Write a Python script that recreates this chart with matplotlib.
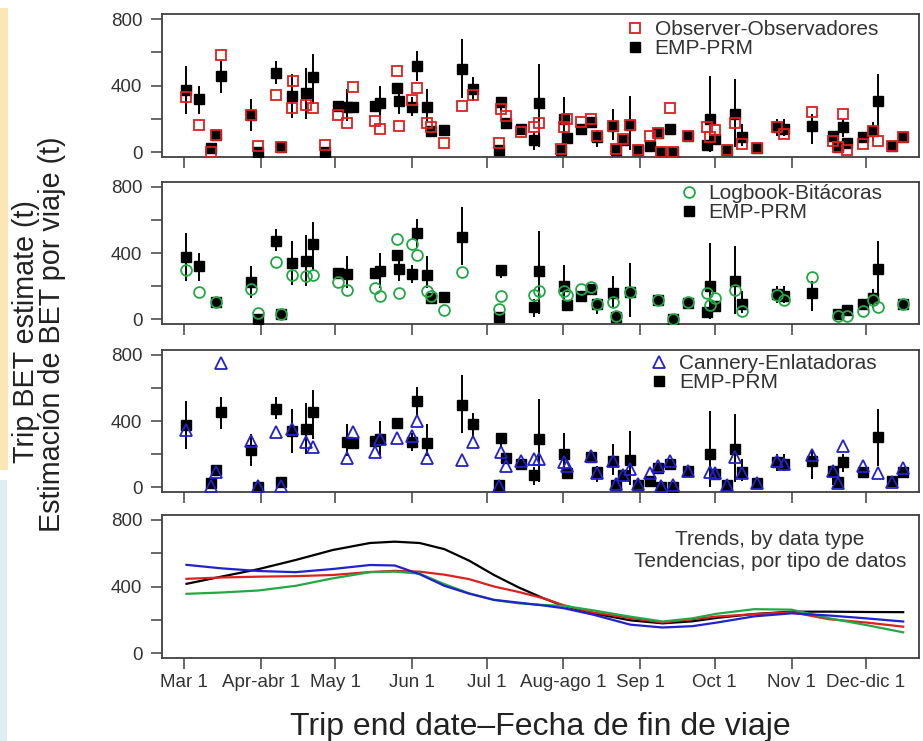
import numpy as np
import matplotlib
matplotlib.use("Agg")
import matplotlib.pyplot as plt
from matplotlib.patches import Rectangle

plt.rcParams['font.family'] = ['Liberation Sans', 'DejaVu Sans']

nan = np.nan

# ---- data: days since Mar 1 (trip end date) ----
trip_day = [1, 6, 11, 13, 15, 27, 30, 37, 39, 43.7, 44, 49, 52, 57, 62, 65.6, 68, 77, 79, 86,
            86.5, 92, 94, 98, 99.5, 105, 112, 116.7, 127, 128, 130, 136, 141, 143, 152, 153.4,
            154.5, 160, 164, 166.4, 173, 174, 177, 180, 183, 188, 191, 192.3, 196, 197.3,
            203.4, 211, 212, 214, 219, 222, 225, 231, 239, 242, 253.4, 261.6, 263.8, 265.9,
            267.2, 273.9, 277.9, 280, 285.4, 290]
emp = [374, 320, 26, 107, 456, 227, 2, 476, 32, 340, nan, 354, 454, 0, 281, 275, 271, 281, 295, 386,
       306, 275, 519, 271, 131, 135, 499, 380, 12, 300, 175, 141, 72, 295, 12, 201,
       88, 141, 181, 91, 161, 12, 72, 167, 12, 38, 115, 2, 141, 2,
       101, 42, 201, 82, 12, 231, 91, 28, 151, 141, 161, 101, 32, 155,
       56, 91, 127, 306, 38, 91]
emp_lo = [233, 233, nan, nan, 354, 131, nan, 412, nan, 209, nan, 201, 292, nan, nan, 191, nan, nan, 191, nan,
          233, 220, 430, 191, nan, nan, 328, 310, nan, 250, nan, nan, 12, 30, nan, 54,
          nan, nan, nan, 30, 72, nan, nan, 12, nan, nan, nan, nan, nan, nan,
          nan, nan, 0, nan, nan, 30, 40, nan, 100, 100, 52, 12, nan, 90,
          nan, nan, 68, 131, nan, nan]
emp_hi = [519, 400, nan, nan, 549, 322, nan, 549, nan, 471, nan, 509, 590, nan, nan, 382, nan, nan, 400, nan,
          400, 330, 609, 382, nan, nan, 681, 450, nan, 330, nan, nan, 121, 531, nan, 330,
          nan, nan, nan, 131, 262, nan, nan, 340, nan, nan, nan, nan, nan, nan,
          nan, nan, 460, nan, nan, 442, 170, nan, 200, 200, 231, 121, nan, 201,
          nan, nan, 181, 471, nan, nan]
observer = [330, 167, 5, 107, 583, 227, 38, 344, 32, 265, 426, 287, 267, 42, 225, 175, 390, 191, 141, 490,
            161, 315, 384, 175, 151, 56, 281, 346, 56, 261, 221, 121, 151, 175, 22, 155,
            201, 181, 201, 101, 161, 22, 82, 167, 12, 96, 115, 2, 267, 2,
            101, 155, 91, 135, 12, 175, 48, 28, 151, 111, 245, 68, 32, 231,
            12, 48, 127, 68, 38, 91]
logbook = [297, 166, nan, 104, nan, 186, 40, 347, 30, 267, nan, 265, 271, nan, 227, 176, nan, 190, 140, 485,
           160, 457, 391, 170, 140, 56, 285, nan, 60, 144, nan, nan, 150, 170, nan, 170,
           150, 184, 197, 90, 104, 20, nan, 164, nan, nan, 116, nan, nan, 4,
           104, 160, 84, 130, nan, 176, 50, nan, 150, 120, 257, nan, 20, nan,
           20, 50, 120, 76, nan, 90]
cannery = [345, nan, 8, 92, 754, 279, 8, 333, 8, 353, nan, 273, 243, nan, nan, 178, 333, 213, 293, 299,
           nan, 313, 399, 178, nan, nan, 164, 273, 8, 213, 128, 158, 172, 172, nan, 152,
           128, nan, 188, 88, 158, 20, 72, 108, 20, 88, 128, 8, 158, 12,
           98, nan, 92, 88, 12, 184, 88, 28, 158, 144, 198, 98, 28, 249,
           nan, 132, nan, 88, 32, 118]

# ---- trends ----
trend_day = [1, 15, 30, 45, 60, 75, 85, 95, 105, 115, 125, 135, 145, 153, 165, 180, 193, 205, 215,
             230, 245, 260, 275, 290]
trend_emp = [417, 460, 505, 560, 620, 662, 670, 662, 625, 556, 470, 395, 330, 285, 240, 198, 180, 192, 213,
             236, 250, 250, 248, 247]
trend_obs = [447, 455, 460, 463, 470, 488, 495, 490, 472, 445, 401, 368, 330, 289, 245, 212, 185, 205, 221,
             235, 247, 205, 185, 160]
trend_log = [357, 365, 377, 405, 450, 487, 490, 478, 415, 360, 320, 300, 290, 285, 258, 220, 191, 210, 238,
             265, 262, 211, 170, 126]
trend_can = [531, 510, 494, 487, 506, 530, 527, 475, 405, 358, 321, 304, 287, 271, 232, 172, 155, 163, 185,
             222, 240, 227, 210, 191]

month_day = [0, 31, 61, 92, 122, 153, 184, 214, 245, 275]
month_lab = ['Mar 1', 'Apr-abr 1', 'May 1', 'Jun 1', 'Jul 1', 'Aug-ago 1', 'Sep 1', 'Oct 1', 'Nov 1', 'Dec-dic 1']

C_RED = '#dd2020'
C_GREEN = '#22a845'
C_BLUE = '#2222cc'
TXT = '#333333'
SP = '#404040'

W, H = 923, 741
fig = plt.figure(figsize=(W / 100, H / 100), dpi=100)

# decorative strips at the left edge
fig.add_artist(Rectangle((0, 1 - 470 / H), 8 / W, 462 / H, transform=fig.transFigure,
                         facecolor='#fde5b5', edgecolor='none'))
fig.add_artist(Rectangle((0, 0), 7 / W, 1 - 480 / H, transform=fig.transFigure,
                         facecolor='#ddeff5', edgecolor='none'))

L, R = 162, 919
panels_px = [(14, 157), (182, 324), (350, 492), (515, 658)]
axes = []
for top, bot in panels_px:
    ax = fig.add_axes([L / W, 1 - bot / H, (R - L) / W, (bot - top) / H])
    axes.append(ax)

days = np.array(trip_day, float)
emp_a = np.array(emp, float)
lo_a = np.array(emp_lo, float)
hi_a = np.array(emp_hi, float)

series = [
    (np.array(observer, float), 's', C_RED, 7.5, 'Observer-Observadores', (0.611, 0.958)),
    (np.array(logbook, float), 'o', C_GREEN, 7.8, 'Logbook-Bitácoras', (0.682, 0.986)),
    (np.array(cannery, float), '^', C_BLUE, 8.5, 'Cannery-Enlatadoras', (0.643, 0.972)),
]

for ax, (vals, mk, col, ms, lab, anchor) in zip(axes[:3], series):
    have = ~np.isnan(vals)
    show_emp = have & ~np.isnan(emp_a)
    bars = show_emp & ~np.isnan(lo_a)
    ax.vlines(days[bars], lo_a[bars], hi_a[bars], color='black', lw=1.4, zorder=2)
    h_emp, = ax.plot(days[show_emp], emp_a[show_emp], ls='none', marker='s', ms=6.8,
                     color='black', zorder=3)
    h_dat, = ax.plot(days[have], vals[have], ls='none', marker=mk, ms=ms, mfc='none',
                     mec=col, mew=1.3, zorder=4)
    leg = ax.legend([h_dat, h_emp], [lab, 'EMP-PRM'], loc='upper left', bbox_to_anchor=anchor,
                    frameon=False, fontsize=15, handlelength=1.0, handletextpad=0.45,
                    labelspacing=0.0, borderpad=0, borderaxespad=0)
    for t in leg.get_texts():
        t.set_color(TXT)

ax4 = axes[3]
ax4.plot(trend_day, trend_emp, color='black', lw=1.6)
ax4.plot(trend_day, trend_obs, color=C_RED, lw=1.6)
ax4.plot(trend_day, trend_log, color=C_GREEN, lw=1.6)
ax4.plot(trend_day, trend_can, color=C_BLUE, lw=1.6)
ax4.text(0.803, 0.755, 'Trends, by data type\nTendencias, por tipo de datos', transform=ax4.transAxes,
         ha='center', va='center', fontsize=15, color=TXT, linespacing=1.2)

for i, ax in enumerate(axes):
    ax.set_xlim((L - 184) / 2.48, (R - 184) / 2.48)
    ax.set_ylim(-28, 830)
    ax.set_yticks([0, 200, 400, 600, 800])
    ax.set_yticklabels(['0', '', '400', '', '800'])
    ax.set_xticks(month_day)
    if i == 3:
        ax.set_xticklabels(month_lab)
    else:
        ax.set_xticklabels([])
    ax.tick_params(axis='both', direction='out', length=7.6, width=1.1, color=SP,
                   labelsize=13.5, labelcolor=TXT)
    ax.tick_params(axis='y', pad=6.5)
    ax.tick_params(axis='x', pad=4)
    for s in ax.spines.values():
        s.set_color(SP)
        s.set_linewidth(1.3)

fig.text(540 / W, 1 - 735 / H, 'Trip end date\u2013Fecha de fin de viaje', ha='center', va='baseline',
         fontsize=23, color='#222222')
fig.text(26 / W, 1 - 332 / H, 'Trip BET estimate (t)', rotation=90, ha='center', va='center',
         fontsize=20.7, color='#222222')
fig.text(52 / W, 1 - 334 / H, 'Estimación de BET por viaje (t)', rotation=90, ha='center', va='center',
         fontsize=20.7, color='#222222')

fig.savefig('out.png', dpi=100, facecolor='white')
